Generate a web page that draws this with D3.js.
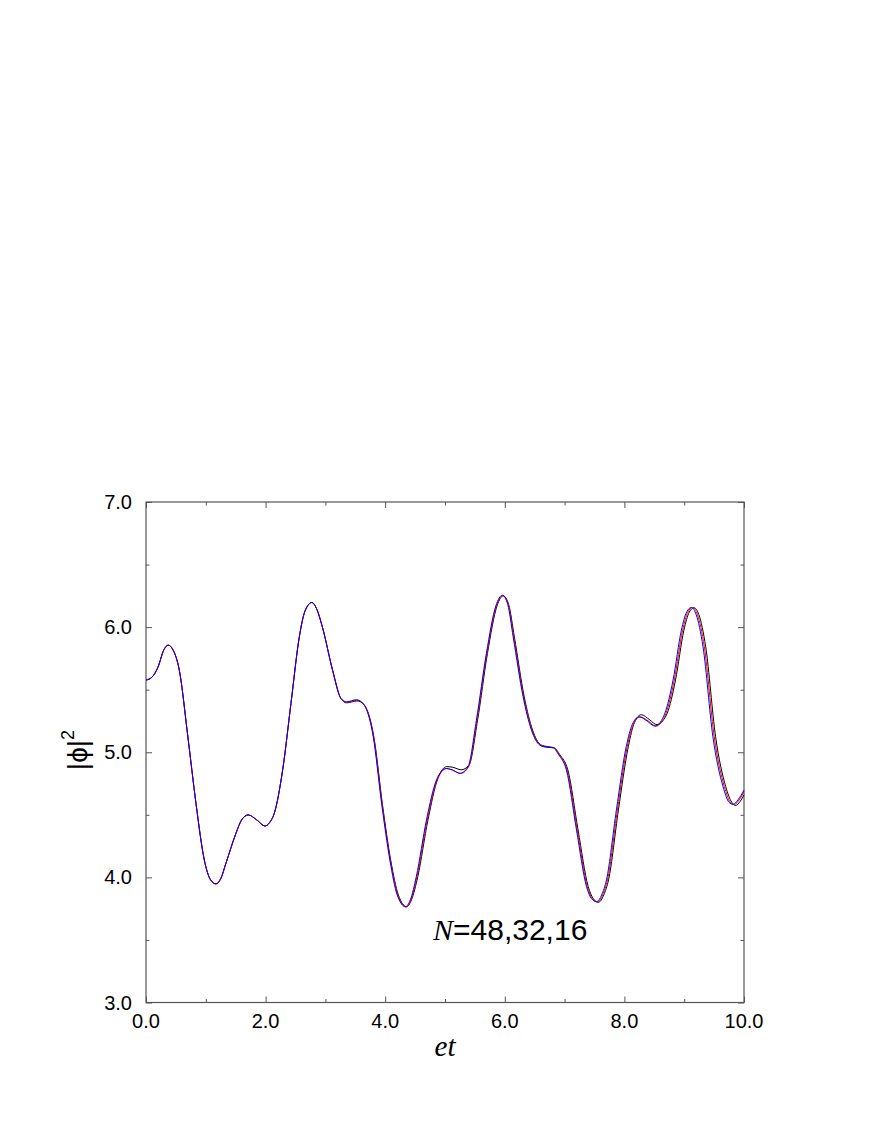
<!DOCTYPE html>
<html>
<head>
<meta charset="utf-8">
<script src="https://cdnjs.cloudflare.com/ajax/libs/d3/7.8.5/d3.min.js"></script>
<style>
  body { margin: 0; background: #fff; }
  svg { display: block; }
</style>
</head>
<body>
<script>
// |phi|^2 vs et for N = 16 (black), 32 (red), 48 (blue)
var xTicks = [0, 2, 4, 6, 8, 10];
var xMinor = [1, 3, 5, 7, 9];
var yTicks = [3, 4, 5, 6, 7];
var yMinor = [3.5, 4.5, 5.5, 6.5];

var seriesColors = ["#000000", "#ff0000", "#0000ff"];

var blue = [
  [0.00, 5.577], [0.10, 5.60], [0.20, 5.68], [0.30, 5.82], [0.37, 5.856], [0.45, 5.82],
  [0.557, 5.656], [0.70, 5.124], [0.836, 4.59], [0.975, 4.139], [1.08, 3.98], [1.17, 3.948],
  [1.25, 3.99], [1.337, 4.113], [1.504, 4.352], [1.60, 4.46], [1.71, 4.499], [1.85, 4.46],
  [1.99, 4.411], [2.07, 4.44], [2.145, 4.512], [2.285, 4.858], [2.424, 5.39], [2.564, 5.922],
  [2.66, 6.13], [2.775, 6.197], [2.85, 6.15], [2.95, 6.00], [3.12, 5.656], [3.26, 5.43],
  [3.354, 5.403], [3.52, 5.42], [3.63, 5.39], [3.80, 5.124], [3.94, 4.59], [4.078, 4.139],
  [4.20, 3.86], [4.34, 3.766], [4.42, 3.82], [4.52, 4.006], [4.69, 4.459], [4.857, 4.778],
  [5.02, 4.87], [5.12, 4.86], [5.25, 4.832], [5.385, 4.884], [5.525, 5.257], [5.692, 5.79],
  [5.85, 6.17], [5.96, 6.255], [6.05, 6.18], [6.14, 5.922], [6.306, 5.443], [6.446, 5.177],
  [6.585, 5.057], [6.70, 5.04], [6.807, 5.036], [6.90, 4.98], [7.03, 4.858], [7.199, 4.379],
  [7.366, 3.926], [7.45, 3.83], [7.533, 3.806], [7.62, 3.86], [7.70, 3.98], [7.866, 4.539],
  [8.03, 5.044], [8.13, 5.22], [8.245, 5.283], [8.38, 5.25], [8.507, 5.209], [8.60, 5.24],
  [8.675, 5.31], [8.814, 5.577], [8.953, 5.976], [9.04, 6.12], [9.12, 6.157], [9.20, 6.10],
  [9.315, 5.842], [9.48, 5.124], [9.65, 4.725], [9.75, 4.60], [9.815, 4.584], [9.90, 4.62],
  [10.0, 4.698]
];

var red = [
  [0.00, 5.577], [0.10, 5.60], [0.20, 5.68], [0.30, 5.82], [0.37, 5.856], [0.45, 5.82],
  [0.557, 5.656], [0.70, 5.124], [0.836, 4.59], [0.975, 4.139], [1.08, 3.98], [1.17, 3.948],
  [1.25, 3.99], [1.337, 4.113], [1.504, 4.352], [1.60, 4.46], [1.71, 4.499], [1.85, 4.46],
  [1.99, 4.411], [2.07, 4.44], [2.145, 4.512], [2.285, 4.858], [2.424, 5.39], [2.564, 5.922],
  [2.66, 6.13], [2.775, 6.197], [2.85, 6.15], [2.95, 6.00], [3.12, 5.656], [3.26, 5.43],
  [3.354, 5.40], [3.525, 5.415], [3.637, 5.385], [3.808, 5.118], [3.948, 4.585], [4.087, 4.135],
  [4.21, 3.86], [4.35, 3.762], [4.43, 3.82], [4.532, 4.006], [4.703, 4.459], [4.87, 4.78],
  [5.03, 4.87], [5.13, 4.855], [5.26, 4.83], [5.395, 4.884], [5.535, 5.257], [5.70, 5.79],
  [5.86, 6.17], [5.97, 6.25], [6.058, 6.18], [6.15, 5.922], [6.315, 5.443], [6.455, 5.177],
  [6.595, 5.057], [6.71, 5.04], [6.815, 5.036], [6.91, 4.98], [7.042, 4.858], [7.212, 4.379],
  [7.38, 3.926], [7.465, 3.83], [7.548, 3.804], [7.637, 3.86], [7.717, 3.98], [7.883, 4.539],
  [8.047, 5.044], [8.148, 5.22], [8.263, 5.283], [8.398, 5.25], [8.525, 5.209], [8.618, 5.24],
  [8.694, 5.31], [8.834, 5.577], [8.974, 5.976], [9.062, 6.12], [9.142, 6.157], [9.222, 6.10],
  [9.337, 5.842], [9.502, 5.124], [9.672, 4.725], [9.772, 4.60], [9.837, 4.582], [9.92, 4.62],
  [10.0, 4.685]
];

var black = [
  [0.00, 5.577], [0.10, 5.60], [0.20, 5.68], [0.30, 5.82], [0.37, 5.856], [0.45, 5.82],
  [0.557, 5.656], [0.70, 5.124], [0.836, 4.59], [0.975, 4.139], [1.08, 3.98], [1.17, 3.948],
  [1.25, 3.99], [1.337, 4.113], [1.504, 4.352], [1.60, 4.46], [1.71, 4.499], [1.85, 4.46],
  [1.99, 4.411], [2.07, 4.44], [2.145, 4.512], [2.285, 4.858], [2.424, 5.39], [2.564, 5.922],
  [2.66, 6.13], [2.775, 6.197], [2.85, 6.15], [2.95, 6.00], [3.12, 5.656], [3.26, 5.43],
  [3.354, 5.395], [3.53, 5.41], [3.645, 5.38], [3.815, 5.11], [3.955, 4.58], [4.095, 4.13],
  [4.22, 3.86], [4.36, 3.766], [4.44, 3.82], [4.545, 4.006], [4.715, 4.459], [4.88, 4.79],
  [5.03, 4.885], [5.13, 4.88], [5.27, 4.86], [5.40, 4.895], [5.545, 5.257], [5.71, 5.79],
  [5.87, 6.17], [5.975, 6.25], [6.065, 6.18], [6.16, 5.922], [6.325, 5.443], [6.465, 5.177],
  [6.60, 5.06], [6.72, 5.045], [6.825, 5.036], [6.92, 4.98], [7.055, 4.858], [7.225, 4.379],
  [7.395, 3.926], [7.48, 3.83], [7.565, 3.80], [7.655, 3.86], [7.735, 3.98], [7.90, 4.539],
  [8.065, 5.044], [8.17, 5.24], [8.285, 5.30], [8.42, 5.26], [8.545, 5.22], [8.64, 5.25],
  [8.715, 5.31], [8.855, 5.577], [8.995, 5.976], [9.085, 6.12], [9.165, 6.155], [9.245, 6.10],
  [9.36, 5.842], [9.525, 5.124], [9.695, 4.725], [9.795, 4.60], [9.86, 4.575], [9.94, 4.61],
  [10.0, 4.66]
];

var W = 872, H = 1128;
var pLeft = 146, pRight = 744, pTop = 502, pBottom = 1002.5;

var svg = d3.select("body").append("svg").attr("width", W).attr("height", H);

var x = d3.scaleLinear().domain([0, 10]).range([pLeft, pRight]);
var y = d3.scaleLinear().domain([3, 7]).range([pBottom, pTop]);

var frameColor = "#555";
var font = "'Liberation Sans', Arial, Helvetica, sans-serif";
var serif = "'Liberation Serif', 'Times New Roman', serif";

// inward ticks on all four sides
function drawTicks(axisFn, scale, vals, size, transform) {
  var g = svg.append("g").attr("transform", transform)
    .call(axisFn(scale).tickValues(vals).tickSize(size).tickFormat(""));
  g.select(".domain").remove();
  g.selectAll("line").attr("stroke", frameColor).attr("stroke-width", 1);
}
drawTicks(d3.axisTop, x, xTicks, 6, "translate(0," + pBottom + ")");
drawTicks(d3.axisTop, x, xMinor, 3.5, "translate(0," + pBottom + ")");
drawTicks(d3.axisBottom, x, xTicks, 6, "translate(0," + pTop + ")");
drawTicks(d3.axisBottom, x, xMinor, 3.5, "translate(0," + pTop + ")");
drawTicks(d3.axisRight, y, yTicks, 6, "translate(" + pLeft + ",0)");
drawTicks(d3.axisRight, y, yMinor, 3.5, "translate(" + pLeft + ",0)");
drawTicks(d3.axisLeft, y, yTicks, 6, "translate(" + pRight + ",0)");
drawTicks(d3.axisLeft, y, yMinor, 3.5, "translate(" + pRight + ",0)");

// frame
svg.append("rect")
  .attr("x", pLeft).attr("y", pTop)
  .attr("width", pRight - pLeft).attr("height", pBottom - pTop)
  .attr("fill", "none").attr("stroke", frameColor).attr("stroke-width", 1.2);

// tick labels
svg.append("g").selectAll("text").data(xTicks).enter().append("text")
  .attr("x", function (d) { return x(d); })
  .attr("y", 1028)
  .attr("text-anchor", "middle")
  .style("font-family", font).style("font-size", "20px")
  .text(function (d) { return d.toFixed(1); });

svg.append("g").selectAll("text").data(yTicks).enter().append("text")
  .attr("x", 132)
  .attr("y", function (d) { return y(d) + 7; })
  .attr("text-anchor", "end")
  .style("font-family", font).style("font-size", "20px")
  .text(function (d) { return d.toFixed(1); });

// curves
var line = d3.line()
  .x(function (d) { return x(d[0]); })
  .y(function (d) { return y(d[1]); })
  .curve(d3.curveMonotoneX);

[black, red, blue].forEach(function (s, i) {
  svg.append("path")
    .datum(s)
    .attr("d", line)
    .attr("fill", "none")
    .attr("stroke", seriesColors[i])
    .attr("stroke-width", 1);
});

// axis titles
svg.append("text")
  .attr("x", (pLeft + pRight) / 2)
  .attr("y", 1056)
  .attr("text-anchor", "middle")
  .style("font-family", serif)
  .style("font-style", "italic")
  .style("font-size", "29px")
  .text("et");

var yl = svg.append("text")
  .attr("transform", "translate(87,750) rotate(-90)")
  .attr("text-anchor", "middle")
  .style("font-family", font)
  .style("font-size", "28px");
yl.append("tspan").text("|\u03d5|");
yl.append("tspan").attr("dy", -13).style("font-size", "18px").text("2");

// annotation
var ann = svg.append("text")
  .attr("x", 433).attr("y", 940)
  .style("font-family", font)
  .style("font-size", "30px");
ann.append("tspan")
  .style("font-family", serif)
  .style("font-style", "italic")
  .text("N");
ann.append("tspan").text("=48,32,16");
</script>
</body>
</html>
